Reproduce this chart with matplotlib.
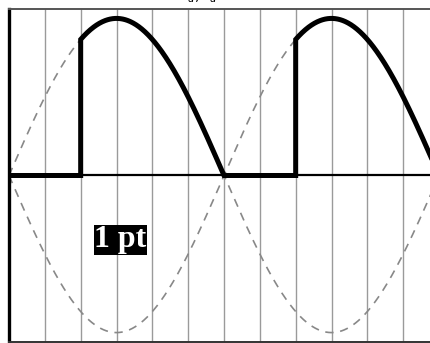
import numpy as np
import matplotlib.pyplot as plt

# firing angle and waveform
alpha = np.pi / 3
theta = np.linspace(0, 2 * np.pi, 2000)
supply = np.sin(theta)
phase = np.mod(theta, np.pi)
output = np.where(phase >= alpha, np.abs(np.sin(theta)), 0.0)
grid_angles = np.arange(1, 12) * np.pi / 6
label_text = "1 pt"

fig = plt.figure(figsize=(4.31, 3.43), dpi=100)
ax = fig.add_axes([0.0209, 0.0029, 0.9977, 0.9709])

for g in grid_angles:
    ax.axvline(g, color="#9a9a9a", lw=1.0, zorder=1)

ax.plot(theta, supply, color="#888888", lw=1.2, ls=(0, (5, 4)), zorder=2)
ax.plot(theta, -supply, color="#888888", lw=1.2, ls=(0, (5, 4)), zorder=2)
ax.axhline(0, color="black", lw=1.6, zorder=3)

# output with vertical jumps at the firing points
x_out = []
y_out = []
for k in range(2):
    start = k * np.pi
    seg = np.linspace(start, start + alpha, 50)
    x_out += list(seg)
    y_out += [0.0] * len(seg)
    seg = np.linspace(start + alpha, start + np.pi, 400)
    x_out += list(seg)
    y_out += list(np.abs(np.sin(seg)))
ax.plot(x_out, y_out, color="black", lw=3.6, solid_joinstyle="miter", zorder=4)

ax.text(1.63, -0.41, label_text, color="white", fontsize=23, fontweight="bold",
        family=["Liberation Serif", "DejaVu Serif"], ha="center", va="center",
        bbox=dict(facecolor="black", edgecolor="none", pad=0.5), zorder=5)

ax.set_xlim(0, 2 * np.pi)
ax.set_ylim(-1.06, 1.06)
ax.set_xticks([])
ax.set_yticks([])
ax.spines["left"].set_linewidth(2.4)
ax.spines["left"].set_color("black")
ax.spines["top"].set_color("#555555")
ax.spines["top"].set_linewidth(1.4)
ax.spines["bottom"].set_color("#333333")
ax.spines["bottom"].set_linewidth(1.4)

fig.text(0.46, 1.012, r"$u_d,\ i_d$", fontsize=10, ha="center", va="center",
         family=["Liberation Serif", "DejaVu Serif"])

fig.savefig("out.png", dpi=100)
